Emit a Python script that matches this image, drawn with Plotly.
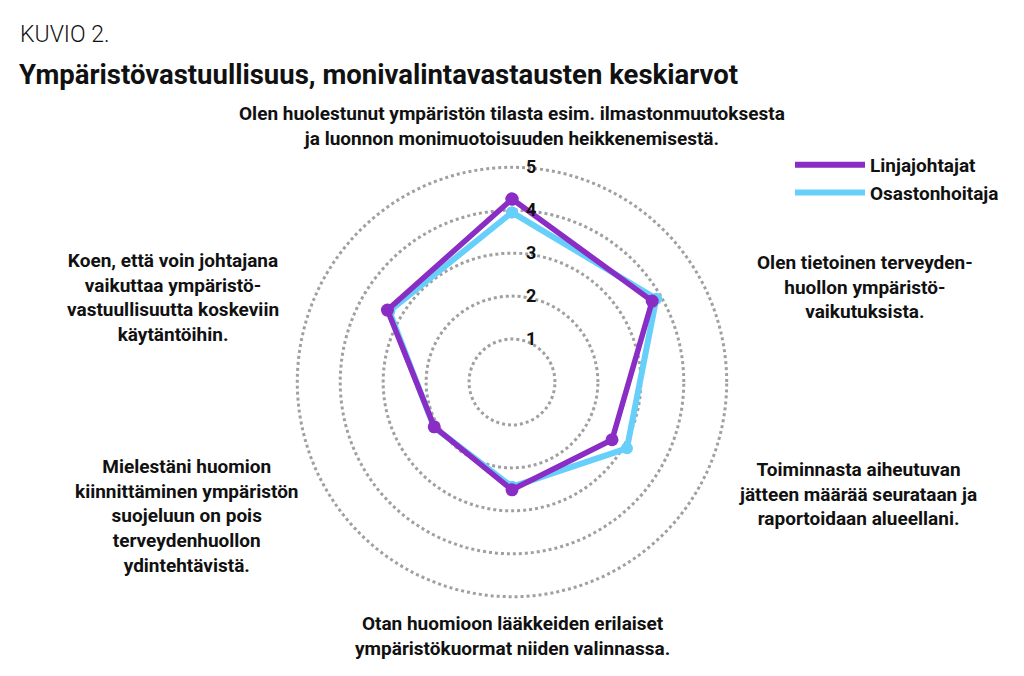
import plotly.graph_objects as go

categories = [
    "Olen huolestunut ympäristön tilasta esim. ilmastonmuutoksesta<br>ja luonnon monimuotoisuuden heikkenemisestä.",
    "Olen tietoinen terveyden-<br>huollon ympäristö-<br>vaikutuksista.",
    "Toiminnasta aiheutuvan<br>jätteen määrää seurataan ja<br>raportoidaan alueellani.",
    "Otan huomioon lääkkeiden erilaiset<br>ympäristökuormat niiden valinnassa.",
    "Mielestäni huomion<br>kiinnittäminen ympäristön<br>suojeluun on pois<br>terveydenhuollon<br>ydintehtävistä.",
    "Koen, että voin johtajana<br>vaikuttaa ympäristö-<br>vastuullisuutta koskeviin<br>käytäntöihin.",
]
linjajohtajat = [4.26, 3.77, 2.69, 2.51, 2.09, 3.35]
osastonhoitaja = [3.95, 3.88, 3.09, 2.44, 2.10, 3.30]
radial_ticks = [1, 2, 3, 4, 5]

FONT = "Roboto, sans-serif"
PURPLE = "#8a2dc4"
BLUE = "#66cffa"

theta = [i * 360 / len(categories) for i in range(len(categories))]
theta_closed = theta + theta[:1]

fig = go.Figure()
fig.add_trace(go.Scatterpolar(
    r=osastonhoitaja + osastonhoitaja[:1], theta=theta_closed,
    mode="lines+markers", name="Osastonhoitaja", showlegend=False,
    line=dict(color=BLUE, width=6), marker=dict(size=12, color=BLUE),
))
fig.add_trace(go.Scatterpolar(
    r=linjajohtajat + linjajohtajat[:1], theta=theta_closed,
    mode="lines+markers", name="Linjajohtajat", showlegend=False,
    line=dict(color=PURPLE, width=5.5), marker=dict(size=13, color=PURPLE),
))
# legend entries (line only, like the original)
fig.add_trace(go.Scatterpolar(r=[None], theta=[None], mode="lines", name="Linjajohtajat",
                              line=dict(color=PURPLE, width=6)))
fig.add_trace(go.Scatterpolar(r=[None], theta=[None], mode="lines", name="Osastonhoitaja",
                              line=dict(color=BLUE, width=6)))

# category labels placed around the chart
label_pos = [(512, 126), (865, 287), (858, 494), (512, 636), (187, 516), (173, 298)]
annotations = []
for text, (px, py) in zip(categories, label_pos):
    annotations.append(dict(
        text="<b>" + text + "</b>", x=px / 1024, y=1 - py / 676, xref="paper", yref="paper",
        xanchor="center", yanchor="middle", showarrow=False, align="center",
        font=dict(family=FONT, size=19, color="#111111"),
    ))
annotations.append(dict(
    text="KUVIO 2.", x=18 / 1024, y=1 - 35 / 676, xref="paper", yref="paper",
    xanchor="left", yanchor="middle", showarrow=False,
    font=dict(family="Roboto Light, Roboto, sans-serif", size=23, color="#111111"),
))
annotations.append(dict(
    text="<b>Ympäristövastuullisuus, monivalintavastausten keskiarvot</b>",
    x=17 / 1024, y=1 - 74 / 676, xref="paper", yref="paper",
    xanchor="left", yanchor="middle", showarrow=False,
    font=dict(family=FONT, size=27.5, color="#111111"),
))

R = 216
cx, cy = 512, 382
fig.update_layout(
    width=1024, height=676,
    margin=dict(l=0, r=0, t=0, b=0),
    paper_bgcolor="white",
    showlegend=True,
    legend=dict(
        x=790 / 1024, y=1 - 146 / 676, xanchor="left", yanchor="top",
        font=dict(family=FONT, size=19, color="#111111", weight="bold"),
        itemwidth=70, tracegroupgap=4, bgcolor="rgba(0,0,0,0)",
    ),
    polar=dict(
        domain=dict(x=[(cx - R) / 1024, (cx + R) / 1024],
                    y=[(676 - cy - R) / 676, (676 - cy + R) / 676]),
        bgcolor="white",
        radialaxis=dict(
            range=[0, 5.03], tickvals=radial_ticks, angle=90, tickangle=90,
            showline=False, ticks="outside", ticklen=10, tickcolor="rgba(0,0,0,0)",
            gridcolor="#a0a0a0", griddash="dot", gridwidth=2.5,
            tickfont=dict(family=FONT, size=18, color="#111111", weight="bold"),
        ),
        angularaxis=dict(
            rotation=90, direction="clockwise", showgrid=False, showline=False,
            showticklabels=False, ticks="",
        ),
    ),
    annotations=annotations,
)
fig.write_html("out.html", config={"displayModeBar": False},
               post_script="document.body.style.margin='0';")
